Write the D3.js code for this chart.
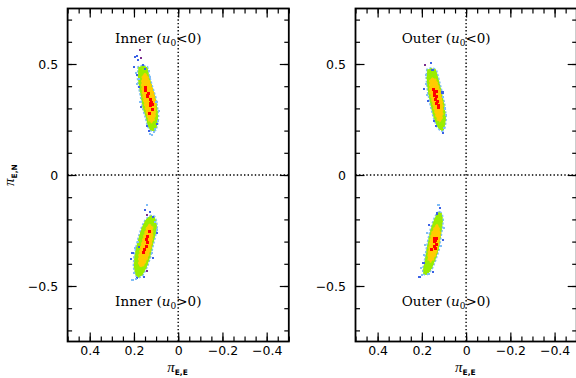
<!DOCTYPE html>
<html>
<head>
<meta charset="utf-8">
<script src="https://cdn.jsdelivr.net/npm/d3@7"></script>
<style>
  body { margin: 0; background: #fff; }
  svg { display: block; font-family: "DejaVu Sans", sans-serif; }
</style>
</head>
<body>
<svg id="chart" width="576" height="378"></svg>
<script>
// tick labels
const xTicks = [0.4, 0.2, 0, -0.2, -0.4];
const yTicks = [-0.5, 0, 0.5];

// Inner, u0 < 0
const innerNegGreen = [[0.16,0.492],[0.179,0.485],[0.182,0.44],[0.176,0.395],[0.167,0.35],[0.16,0.305],[0.146,0.26],[0.137,0.222],[0.126,0.203],[0.115,0.198],[0.104,0.203],[0.096,0.222],[0.091,0.26],[0.096,0.305],[0.104,0.35],[0.118,0.395],[0.131,0.44],[0.141,0.485]];
const innerNegYellow = [[0.15,0.458],[0.162,0.447],[0.166,0.41],[0.162,0.365],[0.153,0.32],[0.143,0.275],[0.133,0.243],[0.12,0.235],[0.109,0.245],[0.102,0.275],[0.102,0.32],[0.109,0.365],[0.124,0.41],[0.139,0.447]];
const innerNegRed = [[0.149,0.395],[0.146,0.38],[0.133,0.368],[0.141,0.353],[0.126,0.342],[0.122,0.327],[0.115,0.317],[0.127,0.312],[0.118,0.297],[0.131,0.275],[0.137,0.36],[0.124,0.322]];
const innerNegScatter = [["p",0.171,0.564],["p",0.167,0.527],["b",0.197,0.533],["b",0.186,0.537],["b",0.182,0.518],["b",0.201,0.488],["b",0.16,0.497],["b",0.149,0.477],["b",0.186,0.452],["b",0.179,0.395],["b",0.167,0.305],["b",0.141,0.222],["b",0.133,0.197],["b",0.096,0.23],["l",0.126,0.185],["l",0.111,0.192],["l",0.104,0.207],["l",0.088,0.29],["l",0.186,0.41],["l",0.179,0.432],["l",0.126,0.44],["l",0.133,0.47],["l",0.192,0.46],["l",0.118,0.18],["l",0.172,0.33],["l",0.098,0.33],["l",0.09,0.245]];

// Inner, u0 > 0
const innerPosGreen = [[0.12,-0.183],[0.132,-0.188],[0.147,-0.203],[0.162,-0.233],[0.177,-0.278],[0.188,-0.323],[0.197,-0.368],[0.2,-0.413],[0.192,-0.45],[0.18,-0.462],[0.162,-0.45],[0.142,-0.413],[0.127,-0.368],[0.117,-0.323],[0.106,-0.278],[0.097,-0.233],[0.102,-0.203],[0.109,-0.188]];
const innerPosYellow = [[0.13,-0.222],[0.142,-0.233],[0.157,-0.278],[0.169,-0.323],[0.179,-0.368],[0.179,-0.405],[0.166,-0.415],[0.153,-0.405],[0.135,-0.368],[0.122,-0.323],[0.115,-0.278],[0.115,-0.233]];
const innerPosRed = [[0.132,-0.255],[0.137,-0.275],[0.142,-0.29],[0.14,-0.305],[0.144,-0.32],[0.151,-0.335],[0.155,-0.347]];
const innerPosScatter = [["l",0.14,-0.135],["b",0.151,-0.158],["b",0.127,-0.165],["p",0.142,-0.18],["b",0.113,-0.188],["l",0.097,-0.248],["b",0.097,-0.263],["b",0.177,-0.323],["b",0.207,-0.353],["b",0.215,-0.38],["p",0.142,-0.431],["b",0.185,-0.465],["l",0.207,-0.473],["b",0.155,-0.458],["b",0.113,-0.375],["l",0.19,-0.47],["l",0.2,-0.44],["l",0.105,-0.21],["l",0.183,-0.3],["l",0.12,-0.35],["l",0.196,-0.33]];

// Outer, u0 < 0
const outerNegGreen = [[0.156,0.48],[0.175,0.474],[0.178,0.437],[0.172,0.377],[0.16,0.317],[0.145,0.257],[0.13,0.219],[0.118,0.204],[0.109,0.2],[0.1,0.204],[0.097,0.219],[0.092,0.257],[0.099,0.317],[0.112,0.377],[0.127,0.437],[0.137,0.474]];
const outerNegYellow = [[0.15,0.438],[0.165,0.429],[0.165,0.377],[0.15,0.317],[0.139,0.272],[0.13,0.247],[0.12,0.24],[0.11,0.249],[0.105,0.272],[0.105,0.317],[0.116,0.377],[0.135,0.429]];
const outerNegRed = [[0.148,0.384],[0.145,0.372],[0.136,0.377],[0.142,0.359],[0.133,0.354],[0.137,0.339],[0.13,0.332],[0.133,0.32],[0.126,0.312],[0.127,0.302],[0.145,0.365]];
const outerNegScatter = [["p",0.187,0.497],["b",0.16,0.505],["b",0.152,0.474],["l",0.183,0.449],["b",0.19,0.389],["b",0.172,0.332],["b",0.107,0.372],["l",0.092,0.272],["b",0.137,0.219],["b",0.103,0.189],["l",0.099,0.212],["b",0.145,0.242],["l",0.18,0.41],["l",0.175,0.36],["l",0.105,0.35],["l",0.094,0.3]];

// Outer, u0 > 0
const outerPosGreen = [[0.12,-0.168],[0.13,-0.173],[0.145,-0.203],[0.16,-0.248],[0.17,-0.293],[0.178,-0.338],[0.185,-0.383],[0.193,-0.42],[0.193,-0.443],[0.182,-0.45],[0.17,-0.443],[0.155,-0.42],[0.14,-0.383],[0.125,-0.338],[0.118,-0.293],[0.111,-0.248],[0.106,-0.203],[0.111,-0.173]];
const outerPosYellow = [[0.132,-0.223],[0.142,-0.233],[0.157,-0.263],[0.165,-0.308],[0.172,-0.353],[0.172,-0.383],[0.161,-0.393],[0.149,-0.383],[0.134,-0.353],[0.123,-0.308],[0.116,-0.263],[0.123,-0.233]];
const outerPosRed = [[0.145,-0.285],[0.136,-0.285],[0.14,-0.296],[0.145,-0.3],[0.136,-0.315],[0.145,-0.323],[0.155,-0.335],[0.14,-0.33]];
const outerPosScatter = [["l",0.125,-0.135],["b",0.118,-0.15],["b",0.133,-0.173],["b",0.166,-0.225],["l",0.1,-0.24],["l",0.178,-0.263],["b",0.106,-0.293],["l",0.185,-0.315],["b",0.193,-0.398],["l",0.205,-0.42],["b",0.211,-0.461],["l",0.17,-0.446],["b",0.148,-0.436],["l",0.2,-0.45],["l",0.115,-0.32],["l",0.19,-0.36]];

const panelNames = ["Inner", "Outer"];

const colors = { p: "#7b2d8e", b: "#3b62e6", l: "#80bdf7", green: "#99ee00", yellow: "#ffcc00", red: "#ff0000" };

const panelW = 221.2, panelH = 333;
const panelLeft = [67.6, 355.5], panelTop = 8.5;

const clouds = [
    [
        { green: innerNegGreen, yellow: innerNegYellow, red: innerNegRed, scatter: innerNegScatter, sign: "<", ty: 0.617 },
        { green: innerPosGreen, yellow: innerPosYellow, red: innerPosRed, scatter: innerPosScatter, sign: ">", ty: -0.568 }
    ],
    [
        { green: outerNegGreen, yellow: outerNegYellow, red: outerNegRed, scatter: outerNegScatter, sign: "<", ty: 0.617 },
        { green: outerPosGreen, yellow: outerPosYellow, red: outerPosRed, scatter: outerPosScatter, sign: ">", ty: -0.568 }
    ]
];

const svg = d3.select("#chart");

panelNames.forEach((name, i) => {
    const g = svg.append("g")
        .attr("transform", `translate(${panelLeft[i]},${panelTop})`);

    const x = d3.scaleLinear([0.5, -0.5], [0, panelW]);
    const y = d3.scaleLinear([-0.75, 0.75], [panelH, 0]);

    g.append("clipPath").attr("id", "clip" + i)
        .append("rect").attr("width", panelW).attr("height", panelH);

    const plot = g.append("g").attr("clip-path", `url(#clip${i})`);

    // zero lines
    plot.append("line")
        .attr("x1", x(0)).attr("x2", x(0)).attr("y1", 0).attr("y2", panelH)
        .attr("stroke", "#000").attr("stroke-width", 1.4).attr("stroke-dasharray", "1.4,2.2");
    plot.append("line")
        .attr("x1", 0).attr("x2", panelW).attr("y1", y(0)).attr("y2", y(0))
        .attr("stroke", "#000").attr("stroke-width", 1.4).attr("stroke-dasharray", "1.4,2.2");

    const poly = d3.line().x(d => x(d[0])).y(d => y(d[1])).curve(d3.curveLinearClosed);

    clouds[i].forEach(c => {
        // ragged light-blue fringe round the green body
        plot.append("path")
            .attr("d", poly(c.green))
            .attr("fill", colors.green)
            .attr("stroke", colors.l).attr("stroke-width", 2.8)
            .attr("stroke-dasharray", "2.2,1.6");
        plot.append("path")
            .attr("d", poly(c.green))
            .attr("fill", colors.green)
            .attr("stroke", colors.green).attr("stroke-width", 0.8)
            .attr("stroke-dasharray", "1.5,2.5");
        plot.append("path")
            .attr("d", poly(c.yellow))
            .attr("fill", colors.yellow)
            .attr("stroke", colors.yellow).attr("stroke-width", 1.2)
            .attr("stroke-dasharray", "2,2");
        plot.selectAll(null)
            .data(c.red)
            .enter().append("rect")
            .attr("x", d => x(d[0]) - 1.5).attr("y", d => y(d[1]) - 1.5)
            .attr("width", 3).attr("height", 3)
            .attr("fill", colors.red)
            .attr("shape-rendering", "crispEdges");
        plot.selectAll(null)
            .data(c.scatter)
            .enter().append("rect")
            .attr("x", d => x(d[1]) - 1.1).attr("y", d => y(d[2]) - 1.1)
            .attr("width", 2.2).attr("height", 2.2)
            .attr("fill", d => colors[d[0]])
            .attr("shape-rendering", "crispEdges");

        const t = g.append("text")
            .attr("x", x(0.09)).attr("y", y(c.ty))
            .attr("dy", "0.35em")
            .attr("text-anchor", "middle")
            .attr("font-family", "'DejaVu Serif', serif")
            .attr("font-size", 13.5);
        t.append("tspan").text(name + " (");
        t.append("tspan").attr("font-style", "italic").text("u");
        t.append("tspan").attr("font-size", 9).attr("dy", 3).text("0");
        t.append("tspan").attr("dy", -3).text(c.sign + "0)");
    });

    // axes: major + minor ticks on all four sides
    const minorX = x.ticks(20), minorY = y.ticks(15);
    const fmtTick = d => (d === 0 ? "0" : d3.format(".1f")(d).replace("-", "\u2212"));

    const addAxis = (axis, transform) => {
        const a = g.append("g").attr("transform", transform).call(axis);
        a.select(".domain").remove();
        a.selectAll("line").attr("stroke-width", 1.2);
        return a;
    };

    addAxis(d3.axisBottom(x).tickValues(minorX).tickSize(-5).tickFormat(""), `translate(0,${panelH})`);
    addAxis(d3.axisTop(x).tickValues(minorX).tickSize(-5).tickFormat(""), "translate(0,0)");
    addAxis(d3.axisLeft(y).tickValues(minorY).tickSize(-4.5).tickFormat(""), "translate(0,0)");
    addAxis(d3.axisRight(y).tickValues(minorY).tickSize(-4.5).tickFormat(""), `translate(${panelW},0)`);

    addAxis(d3.axisBottom(x).tickValues(xTicks).tickSize(-9).tickPadding(5).tickFormat(fmtTick), `translate(0,${panelH})`)
        .selectAll("text").attr("font-size", 12.5).attr("fill", "#000").attr("font-family", "'DejaVu Sans', sans-serif");
    addAxis(d3.axisTop(x).tickValues(xTicks).tickSize(-9).tickFormat(""), "translate(0,0)");
    addAxis(d3.axisLeft(y).tickValues(yTicks).tickSize(-9).tickPadding(9.5).tickFormat(fmtTick), "translate(0,0)")
        .selectAll("text").attr("font-size", 12.5).attr("fill", "#000").attr("font-family", "'DejaVu Sans', sans-serif");
    addAxis(d3.axisRight(y).tickValues(yTicks).tickSize(-9).tickFormat(""), `translate(${panelW},0)`);

    g.append("rect")
        .attr("width", panelW).attr("height", panelH)
        .attr("fill", "none").attr("stroke", "#000").attr("stroke-width", 1.8);

    // x axis label
    const xl = g.append("text")
        .attr("x", x(0) - 11).attr("y", panelH + 30)
        .attr("font-size", 15);
    xl.append("tspan").attr("font-family", "'Liberation Serif', serif").attr("font-style", "italic").text("\u03c0");
    xl.append("tspan").attr("font-size", 7.5).attr("font-weight", "bold").attr("dy", 3).text("E,E");

    // y axis label (only on the left panel)
    if (i === 0) {
        const yl = g.append("text")
            .attr("transform", `translate(${-54},${y(0) + 11}) rotate(-90)`)
            .attr("font-size", 15);
        yl.append("tspan").attr("font-family", "'Liberation Serif', serif").attr("font-style", "italic").text("\u03c0");
        yl.append("tspan").attr("font-size", 7.5).attr("font-weight", "bold").attr("dy", 3).text("E,N");
    }
});
</script>
</body>
</html>
